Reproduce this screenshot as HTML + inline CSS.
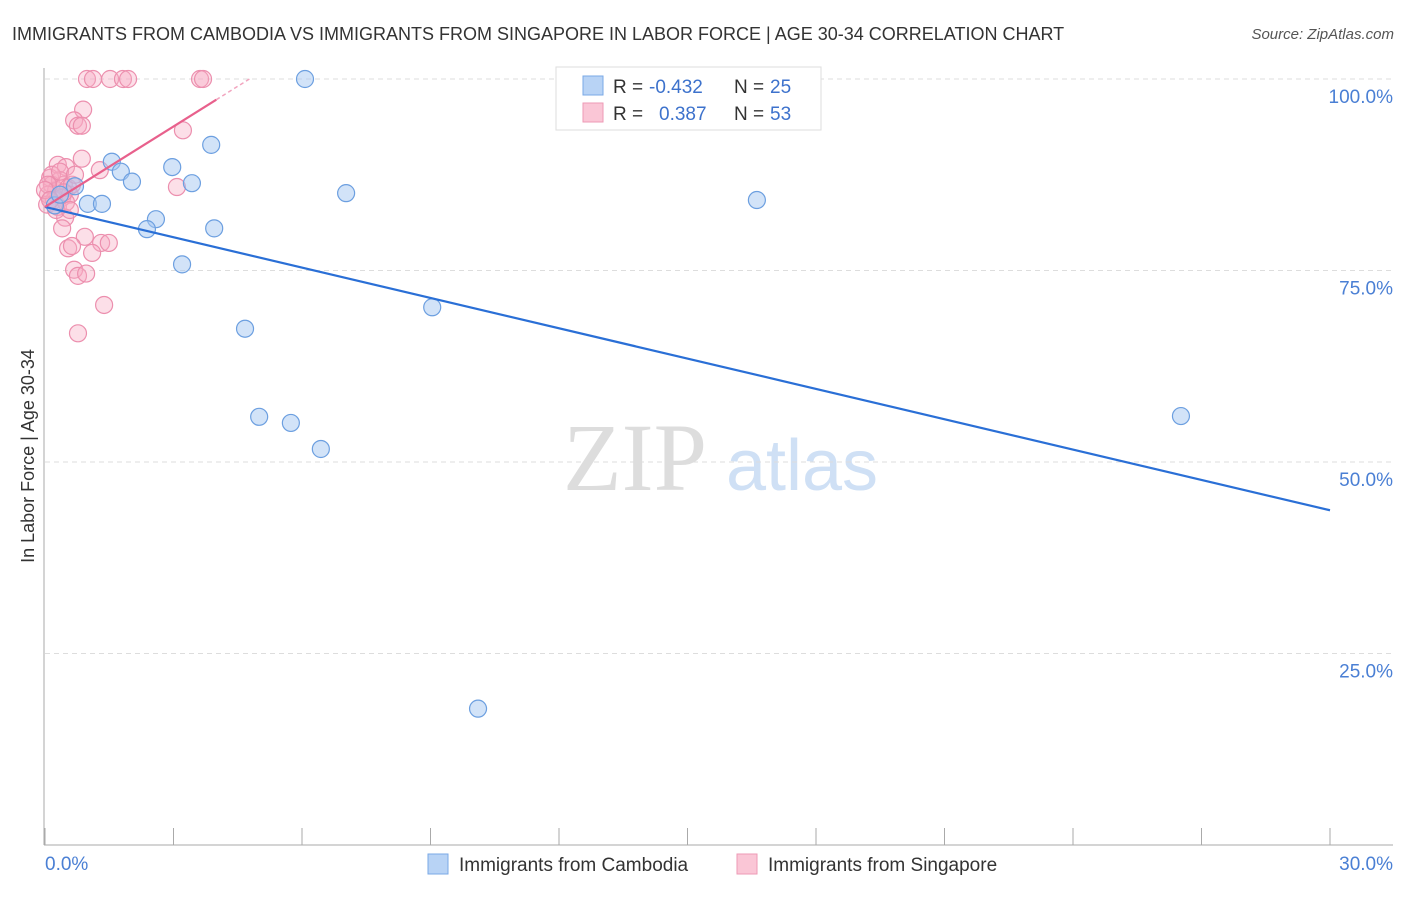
<!DOCTYPE html>
<html><head><meta charset="utf-8"><style>
body{margin:0;background:#fff;font-family:"Liberation Sans",sans-serif}
svg text{font-family:"Liberation Sans",sans-serif}
</style></head><body>
<svg id="chart" width="1406" height="892" xmlns="http://www.w3.org/2000/svg">
<text x="12" y="40" font-size="18" fill="#333">IMMIGRANTS FROM CAMBODIA VS IMMIGRANTS FROM SINGAPORE IN LABOR FORCE | AGE 30-34 CORRELATION CHART</text>
<text x="1394" y="39" font-size="15" fill="#555" text-anchor="end" font-style="italic">Source: ZipAtlas.com</text>
<g>
<text x="635" y="490" font-size="96" fill="#ddd" text-anchor="middle" font-family="Liberation Serif, serif" style="font-family:'Liberation Serif',serif">ZIP</text>
<text x="802" y="490" font-size="72" fill="#cfe0f5" text-anchor="middle">atlas</text>
</g>
<g id="grid"></g>
<g id="axes"></g>
<g id="marks"></g>
<text transform="translate(34,456) rotate(-90)" font-size="18" fill="#333" text-anchor="middle">In Labor Force | Age 30-34</text>
<g>
<rect x="556" y="67" width="265" height="63" fill="#fff" stroke="#ddd"/>
<rect x="583" y="76" width="20" height="19" fill="#b8d3f5" stroke="#7aa8e6"/>
<rect x="583" y="103" width="20" height="19" fill="#fac6d6" stroke="#ee9ab5"/>
<text x="613" y="93" font-size="19" fill="#333">R =</text>
<text x="649" y="93" font-size="19" fill="#3d72cc">-0.432</text>
<text x="734" y="93" font-size="19" fill="#333">N =</text>
<text x="770" y="93" font-size="19" fill="#3d72cc">25</text>
<text x="613" y="120" font-size="19" fill="#333">R =</text>
<text x="659" y="120" font-size="19" fill="#3d72cc">0.387</text>
<text x="734" y="120" font-size="19" fill="#333">N =</text>
<text x="770" y="120" font-size="19" fill="#3d72cc">53</text>
</g>
<g>
<rect x="428" y="854" width="20" height="20" fill="#b8d3f5" stroke="#7aa8e6"/>
<text x="459" y="871" font-size="19" fill="#333">Immigrants from Cambodia</text>
<rect x="737" y="854" width="20" height="20" fill="#fac6d6" stroke="#ee9ab5"/>
<text x="768" y="871" font-size="19" fill="#333">Immigrants from Singapore</text>
</g>
</svg>
<script>
const blueX=[6.07,1.56,1.77,2.03,2.97,3.88,3.43,0.70,1.0,1.33,2.59,2.38,3.95,3.2,7.03,16.62,9.04,4.67,5.0,5.74,6.44,26.52,10.11,0.23,0.35];
const blueY=[100,89.2,87.9,86.6,88.5,91.4,86.4,86.0,83.7,83.7,81.7,80.4,80.5,75.8,85.1,84.2,70.2,67.4,55.9,55.1,51.7,56.0,17.8,83.5,84.9];
const pinkX=[0.98,1.12,1.52,1.82,1.94,3.62,3.69,0.89,0.68,0.77,0.86,3.22,0.86,0.30,0.49,1.28,3.08,0.12,0.16,0.26,0.35,0.44,0.54,0.07,0.21,0.40,0.58,0.05,0.30,0.49,0.63,0.47,0.40,0.93,0.54,0.63,1.31,1.49,1.10,0.68,0.77,0.96,1.38,0.77,0.16,0.35,0.07,0.26,0.70,0,0.44,0.12,0.58];
const pinkY=[100,100,100,100,100,100,100,96.0,94.6,93.9,93.9,93.3,89.6,88.8,88.5,88.1,85.9,87.1,86.2,85.5,86.8,86.2,85.8,84.9,84.2,84.5,84.9,83.6,83.3,83.9,86.2,81.9,80.5,79.4,77.9,78.2,78.6,78.6,77.3,75.1,74.3,74.6,70.5,66.8,87.5,87.9,86.2,82.9,87.5,85.5,85.2,84.2,82.9];
const blueTrend=[83.3,43.7];
const pinkTrend=[83.3,97.3];
const pinkTrendEnd=4.0;
const yTicks=[25,50,75,100];
const yTickLabels=["25.0%","50.0%","75.0%","100.0%"];
const xTickLabels=["0.0%","30.0%"];
const NS="http://www.w3.org/2000/svg";
const sx=v=>45+v*(1285/30), sy=v=>845-v*7.66;
function mk(tag,attrs,parent){const e=document.createElementNS(NS,tag);for(const k in attrs)e.setAttribute(k,attrs[k]);parent.appendChild(e);return e;}
const grid=document.getElementById('grid'),axes=document.getElementById('axes'),marks=document.getElementById('marks');
yTicks.forEach((t,i)=>{
 const l=mk('line',{x1:45,x2:1393,y1:sy(t),y2:sy(t),stroke:'#ddd','stroke-dasharray':'5,4'},grid);
 
 
 const tx=mk('text',{x:1393,y:sy(t)+24,'font-size':19,fill:'#4a7fd4','text-anchor':'end'},axes);
 tx.textContent=yTickLabels[i];
 
 
});
const ya=mk('line',{x1:44,x2:44,y1:68,y2:845,stroke:'#aaa'},axes);


const xa=mk('line',{x1:44,x2:1393,y1:845,y2:845,stroke:'#aaa'},axes);


for(let i=0;i<=10;i++){
 const x=sx(i*3);
 const t=mk('line',{x1:x,x2:x,y1:828,y2:845,stroke:'#aaa'},axes);
 
 
}
[[0,'start',45],[30,'end',1393]].forEach((d,i)=>{
 const t=mk('text',{x:d[2],y:870,'font-size':19,fill:'#4a7fd4','text-anchor':d[1]},axes);
 t.textContent=xTickLabels[i];
 
 
});
pinkX.forEach((x,i)=>{
 const c=mk('circle',{cx:sx(x),cy:sy(pinkY[i]),r:8.5,fill:'rgba(246,170,195,0.38)',stroke:'#ec8fae','stroke-width':1.2},marks);
 
 
});
blueX.forEach((x,i)=>{
 const c=mk('circle',{cx:sx(x),cy:sy(blueY[i]),r:8.5,fill:'rgba(165,200,242,0.5)',stroke:'#6c9fe0','stroke-width':1.2},marks);
 
 
});
const bl=mk('line',{x1:sx(0),y1:sy(blueTrend[0]),x2:sx(30),y2:sy(blueTrend[1]),stroke:'#2a6fd6','stroke-width':2.2},marks);


const pl=mk('line',{x1:sx(0),y1:sy(pinkTrend[0]),x2:sx(pinkTrendEnd),y2:sy(pinkTrend[1]),stroke:'#e8608c','stroke-width':2.2},marks);


const slope=(pinkTrend[1]-pinkTrend[0])/pinkTrendEnd, ext=pinkTrendEnd+(100-pinkTrend[1])/slope;
const pd=mk('line',{x1:sx(pinkTrendEnd),y1:sy(pinkTrend[1]),x2:sx(ext),y2:sy(100),stroke:'#f2a5bf','stroke-width':1.5,'stroke-dasharray':'4,3'},marks);


</script>
</body></html>
